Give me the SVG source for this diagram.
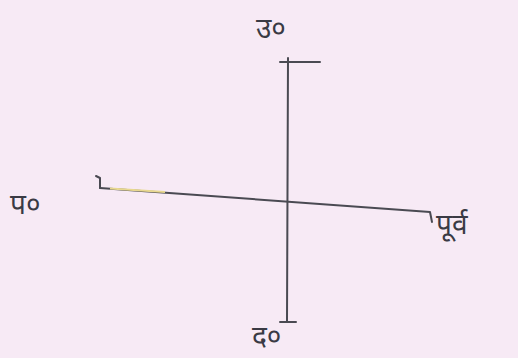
<svg xmlns="http://www.w3.org/2000/svg" width="518" height="358" viewBox="0 0 518 358">
<style>
.ln{fill:none;stroke:#4a4a52;stroke-width:2;stroke-linecap:round;stroke-linejoin:round}
.lb{font-family:"Noto Sans","DejaVu Sans",sans-serif;fill:#3a3a44;font-size:28px}
</style>
<rect width="518" height="358" fill="#f7eaf5"/>
<g id="connectors">
<path class="ln" d="M288,58 L287,322"/>
<path class="ln" d="M280,62 L320,62"/>
<path class="ln" d="M100,188 L430,212 L432,222"/>
<path d="M110,188.5 L165,192" fill="none" stroke="#e8d890" stroke-width="2"/>
<path class="ln" d="M96,176 L100,178 L100,188"/>
<path class="ln" d="M280,322 L296,322"/>
</g>
<g id="north"><text class="lb" x="256" y="38">उ०</text></g>
<g id="west"><text class="lb" x="10" y="214">प०</text></g>
<g id="east"><text class="lb" x="436" y="234">पूर्व</text></g>
<g id="south"><text class="lb" x="252" y="346">द०</text></g>
</svg>
